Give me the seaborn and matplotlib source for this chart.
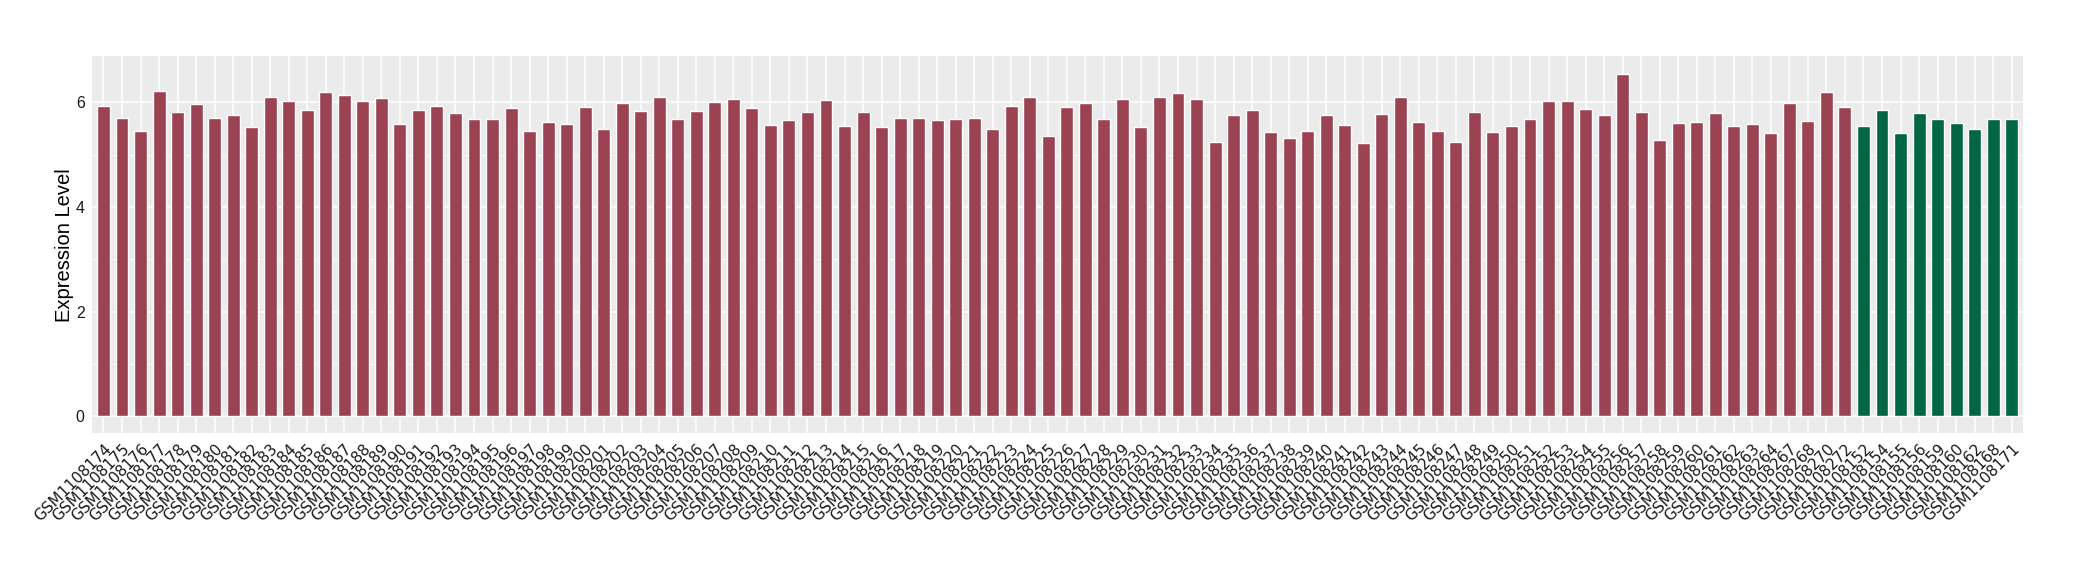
import numpy as np
import pandas as pd
import seaborn as sns
import matplotlib.pyplot as plt
from matplotlib.ticker import MultipleLocator

# sample ids (tumour group first, then normal group)
tumour_ids = ['GSM%d' % n for n in list(range(1108174, 1108265)) + [1108267, 1108268, 1108270, 1108272]]
normal_ids = ['GSM1108152', 'GSM1108154', 'GSM1108155', 'GSM1108156', 'GSM1108159',
              'GSM1108160', 'GSM1108162', 'GSM1108168', 'GSM1108171']

tumour_vals = [5.94, 5.71, 5.45, 6.21, 5.81, 5.96, 5.71, 5.75, 5.52, 6.11,
               6.02, 5.85, 6.19, 6.15, 6.02, 6.08, 5.58, 5.85, 5.94, 5.79,
               5.69, 5.68, 5.90, 5.45, 5.62, 5.58, 5.92, 5.50, 5.98, 5.83,
               6.11, 5.68, 5.83, 6.00, 6.06, 5.89, 5.56, 5.66, 5.81, 6.04,
               5.54, 5.81, 5.52, 5.71, 5.71, 5.66, 5.68, 5.71, 5.50, 5.94,
               6.11, 5.35, 5.92, 5.98, 5.68, 6.06, 5.52, 6.10, 6.17, 6.06,
               5.25, 5.75, 5.85, 5.43, 5.31, 5.46, 5.75, 5.56, 5.22, 5.77,
               6.11, 5.62, 5.45, 5.25, 5.81, 5.43, 5.54, 5.69, 6.02, 6.02,
               5.87, 5.75, 6.54, 5.81, 5.29, 5.60, 5.62, 5.79, 5.54, 5.58,
               5.41, 5.98, 5.64, 6.19, 5.92]
normal_vals = [5.54, 5.85, 5.41, 5.79, 5.69, 5.60, 5.50, 5.69, 5.69]

df = pd.DataFrame({
    'sample': tumour_ids + normal_ids,
    'expr': tumour_vals + normal_vals,
    'group': ['Tumour'] * len(tumour_ids) + ['Normal'] * len(normal_ids),
})

sns.set_theme(style='darkgrid', rc={'axes.facecolor': '#EBEBEB', 'grid.color': 'white'})
plt.rcParams['font.family'] = ['Liberation Sans', 'DejaVu Sans']

fig = plt.figure(figsize=(20.8, 5.8), dpi=100)
ax = fig.add_axes([0.0444, 0.2529, 0.9281, 0.6499])

sns.barplot(data=df, x='sample', y='expr', hue='group',
            palette={'Tumour': '#9B4352', 'Normal': '#006644'},
            dodge=False, width=0.7, saturation=1, legend=False, ax=ax, zorder=3)

ax.set_xlim(-0.6, len(df) - 0.4)
ax.set_ylim(-0.33, 6.88)
ax.yaxis.set_major_locator(MultipleLocator(2))
ax.yaxis.set_minor_locator(MultipleLocator(1))
ax.grid(which='major', color='white', linewidth=1.1)
ax.grid(which='minor', axis='y', color='white', linewidth=0.55)
ax.set_axisbelow(True)
for s in ax.spines.values():
    s.set_visible(False)

ax.tick_params(axis='both', which='major', length=3.5, width=0.8, color='#333333',
               direction='out', pad=2, labelcolor='#1a1a1a')
ax.tick_params(axis='y', which='minor', length=0)
ax.tick_params(axis='y', labelsize=11.5)
ax.set_xticks(range(len(df)))
ax.set_xticklabels(df['sample'], rotation=45, ha='right', va='top',
                   rotation_mode='anchor', fontsize=11, family='DejaVu Sans')

ax.set_xlabel('')
ax.set_ylabel('Expression Level', fontsize=14.5, color='black')
ax.yaxis.set_label_coords(-0.0095, 0.5)

fig.savefig('out.png', dpi=100, facecolor='white')
